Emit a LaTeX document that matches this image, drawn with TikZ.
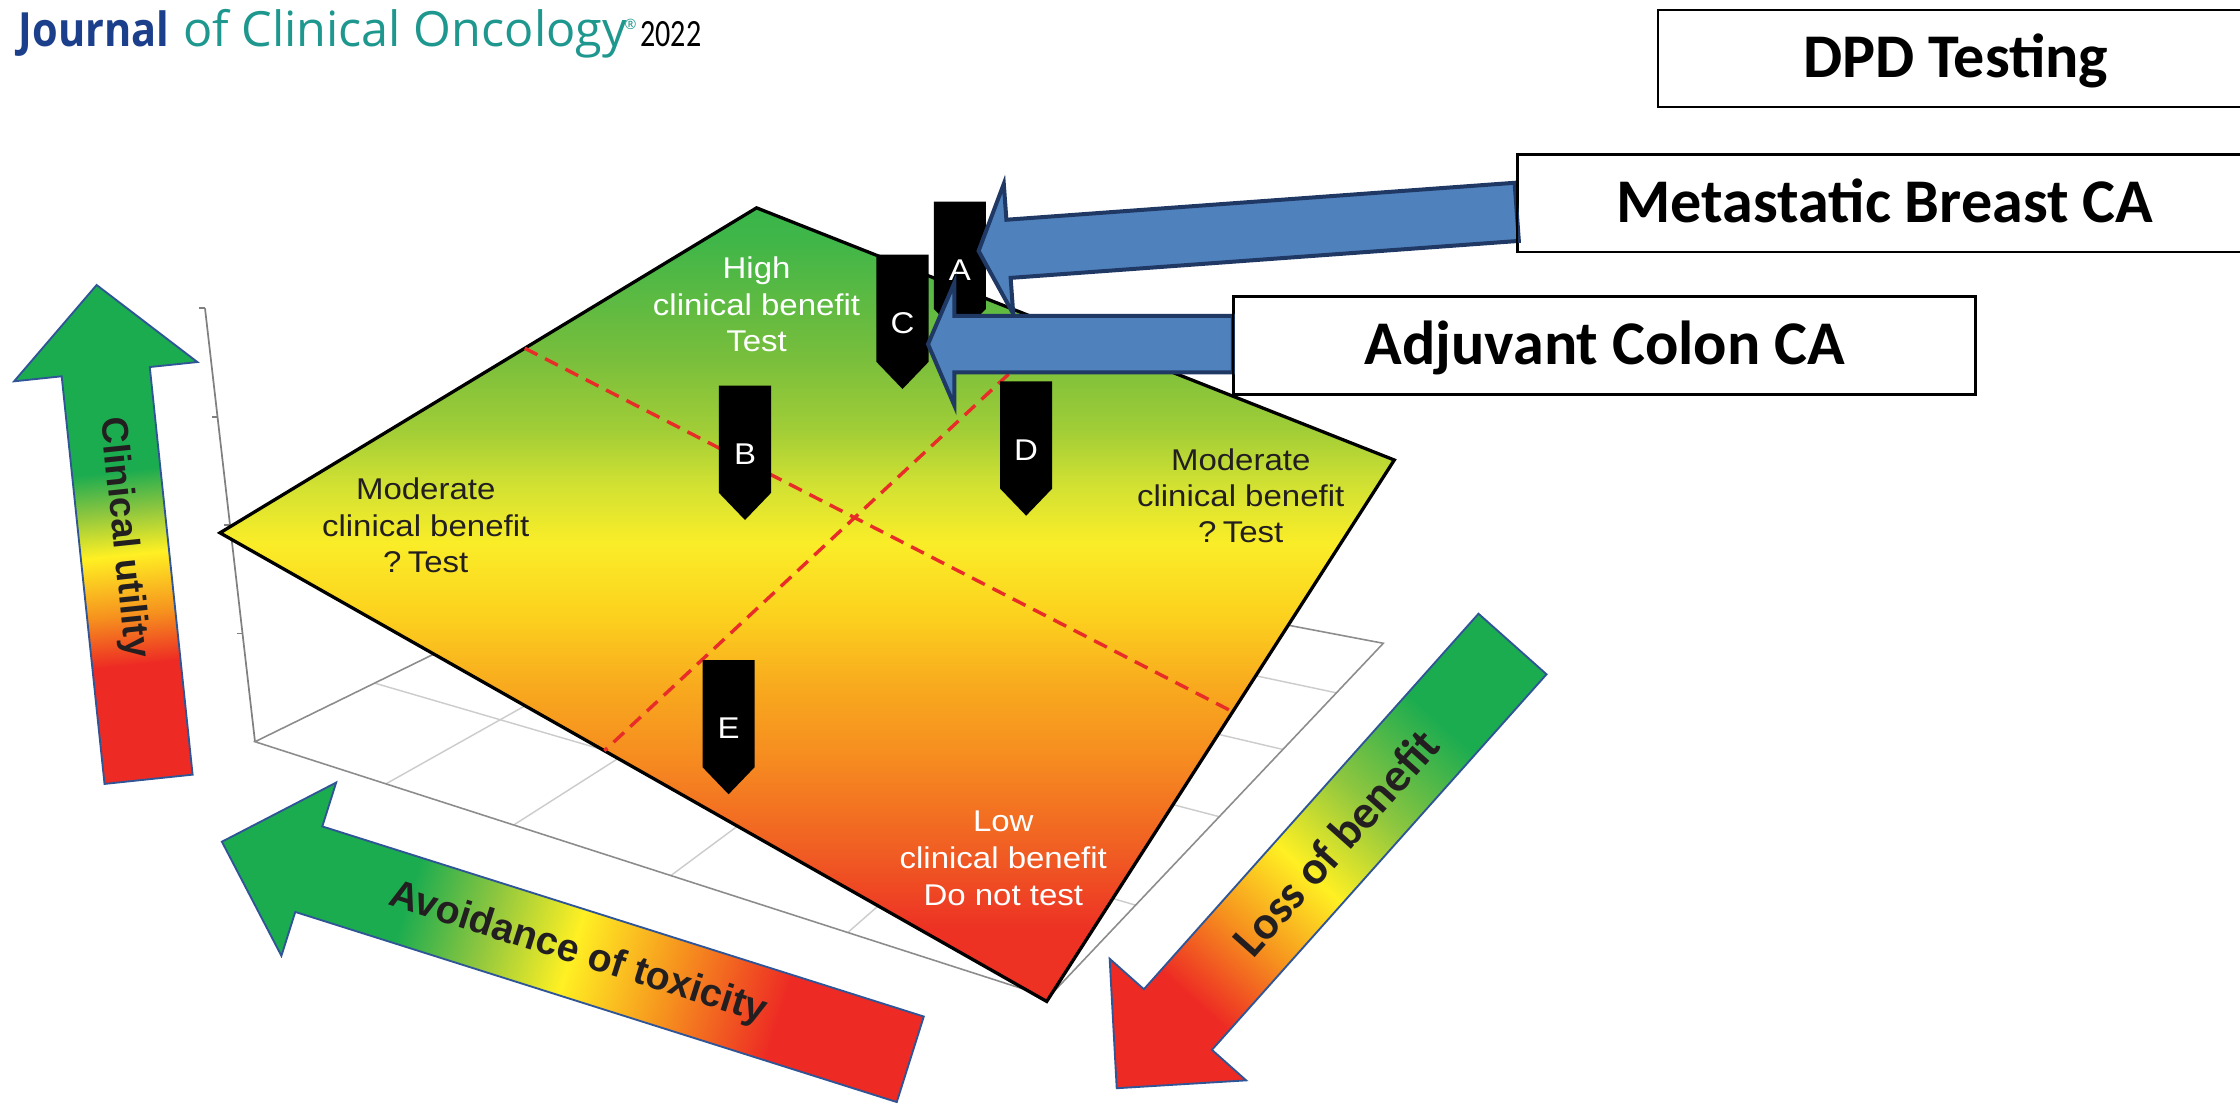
\documentclass[tikz,border=0pt]{standalone}
\usepackage{fontspec}
\setmainfont{Liberation Sans}
\newfontfamily\labf[FakeStretch=1.1]{Liberation Sans}
\newfontfamily\arf{Liberation Sans}
\newfontfamily\calf{Carlito}
\newfontfamily\calyr[FakeStretch=0.78]{Carlito}
\newfontfamily\osf{Open Sans}
\newfontfamily\osfj[FakeStretch=0.88]{Open Sans}
\usetikzlibrary{calc}

\definecolor{pg1}{RGB}{57,181,74}
\definecolor{pg2}{RGB}{65,182,72}
\definecolor{pg3}{RGB}{120,190,60}
\definecolor{pg4}{RGB}{160,205,55}
\definecolor{pg5}{RGB}{210,225,50}
\definecolor{py}{RGB}{250,237,40}
\definecolor{po1}{RGB}{252,210,30}
\definecolor{po2}{RGB}{248,170,30}
\definecolor{po3}{RGB}{246,140,32}
\definecolor{po4}{RGB}{240,90,35}
\definecolor{pr}{RGB}{237,50,36}
\definecolor{ag}{RGB}{28,172,80}
\definecolor{ayg}{RGB}{141,198,63}
\definecolor{ay}{RGB}{255,240,35}
\definecolor{ao}{RGB}{246,146,30}
\definecolor{ar}{RGB}{237,42,36}
\definecolor{aline}{RGB}{47,85,151}
\definecolor{bfill}{RGB}{79,129,189}
\definecolor{bline}{RGB}{31,56,100}
\definecolor{jnavy}{RGB}{28,63,140}
\definecolor{jteal}{RGB}{30,152,142}
\definecolor{txtdark}{RGB}{35,31,32}
\definecolor{dashred}{RGB}{232,45,40}

\pgfdeclareverticalshading{planeshade}{100bp}{color(0bp)=(pr); color(29.6bp)=(pr); color(34.1bp)=(po4); color(40.4bp)=(po3); color(44.9bp)=(po2); color(49.4bp)=(po1); color(53.9bp)=(py); color(57.5bp)=(pg5); color(61.1bp)=(pg4); color(65.6bp)=(pg3); color(72.8bp)=(pg2); color(75bp)=(pg1); color(100bp)=(pg1)}
\pgfdeclarehorizontalshading{cushade}{100bp}{color(0bp)=(ar); color(36.6bp)=(ar); color(41.7bp)=(ao); color(47.7bp)=(ay); color(52.1bp)=(ayg); color(56.1bp)=(ag); color(100bp)=(ag)}
\pgfdeclarehorizontalshading{aoshade}{100bp}{color(0bp)=(ar); color(34.5bp)=(ar); color(42.3bp)=(ao); color(49.6bp)=(ay); color(55.8bp)=(ayg); color(61.5bp)=(ag); color(100bp)=(ag)}
\pgfdeclarehorizontalshading{lbshade}{100bp}{color(0bp)=(ag); color(34bp)=(ag); color(43bp)=(ayg); color(50.8bp)=(ay); color(58bp)=(ao); color(65.2bp)=(ar); color(100bp)=(ar)}

\tikzset{
  axisline/.style={draw=black!50, line width=1.2},
  floorline/.style={draw=black!45, line width=1.1},
  gridline/.style={draw=black!20, line width=1},
  planeedge/.style={draw=black, line width=2.3, line join=miter},
  redline/.style={draw=dashred, line width=2.4, dash pattern=on 10pt off 6pt},
  mklabel/.style={text=white, font=\labf\fontsize{21}{25}\selectfont, anchor=base, inner sep=0},
  plabw/.style={text=white, font=\labf\fontsize{21}{25}\selectfont, anchor=base, inner sep=0},
  plabd/.style={text=txtdark, font=\labf\fontsize{21}{25}\selectfont, anchor=base, inner sep=0},
  bigarrow/.style={draw=aline, line width=1.3, line join=miter},
  bigtxt/.style={text=txtdark, font=\arf\bfseries\fontsize{26}{30}\selectfont, inner sep=0},
  lbtxt/.style={text=txtdark, font=\calf\bfseries\fontsize{33}{38}\selectfont, inner sep=0},
  blockarrow/.style={fill=bfill, draw=bline, line width=2.8, line join=miter},
  labelbox/.style={draw=black, line width=1.3, fill=white, inner sep=0, anchor=north west},
  boxtxt/.style={font=\calf\bfseries\fontsize{43.5}{50}\selectfont, anchor=base, inner sep=0, text=black},
}

\newcommand\mkmarker[4]{%
  \fill[black] (#2-18.25,#3) -- (#2+18.25,#3) -- (#2+18.25,#3+75) -- (#2,#3+94) -- (#2-18.25,#3+75) -- cycle;
  \node[mklabel] (#1) at (#2,#3+55) {#4};}

\begin{document}
\begin{tikzpicture}[x=1pt,y=-1pt]
\useasboundingbox (0,0) rectangle (1568,778);
\fill[white] (0,0) rectangle (1568,778);

% ---------- vertical axis ----------
\coordinate (AxT) at (143.5,215.8);
\coordinate (O) at (178.5,519.2);
\draw[axisline] (AxT) -- (O);
\foreach \f in {0,0.25,0.5,0.75} \draw[axisline] ($(AxT)!\f!(O)$) -- ++(-4,0);

% ---------- floor grid ----------
\coordinate (F) at (734,698);
\coordinate (Rf) at (968.3,450.3);
\coordinate (Bk) at (500.6,361.4);
\foreach \a in {0.165,0.326,0.524,0.747} \draw[gridline] ($(O)!\a!(F)$) -- ($(Bk)!\a!(Rf)$);
\foreach \b in {0.26,0.51,0.70,0.86} \draw[gridline] ($(F)!\b!(Rf)$) -- ($(O)!\b!(Bk)$);
\draw[floorline] (O) -- (F) -- (Rf) -- (Bk) -- cycle;

% ---------- plane ----------
\coordinate (PT) at (529.6,145.5);
\coordinate (PR) at (976,322);
\coordinate (PB) at (732.7,701);
\coordinate (PL) at (154,373);
\shade[shading=planeshade] (PT) -- (PR) -- (PB) -- (PL) -- cycle;
\draw[planeedge] (PT) -- (PR) -- (PB) -- (PL) -- cycle;

\draw[redline] ($(PL)!0.568!(PT)$) -- ($(PR)!0.465!(PB)$);
\draw[redline] ($(PT)!0.474!(PR)$) -- ($(PL)!0.465!(PB)$);

% ---------- plane labels ----------
\node[plabw] (hi1) at (529.6,194.8) {High};
\node[plabw] (hi2) at (529.6,220.5) {clinical benefit};
\node[plabw] (hi3) at (529.6,246) {Test};
\node[plabd] (ml1) at (298,349.7) {Moderate};
\node[plabd] (ml2) at (298,375.3) {clinical benefit};
\node[plabd] (ml3) at (298,401) {?\kern4.5pt Test};
\node[plabd] (mr1) at (868.5,329) {Moderate};
\node[plabd] (mr2) at (868.5,354.4) {clinical benefit};
\node[plabd] (mr3) at (868.5,379.8) {?\kern4.5pt Test};
\node[plabw] (lo1) at (702.3,582.2) {Low};
\node[plabw] (lo2) at (702.3,607.8) {clinical benefit};
\node[plabw] (lo3) at (702.3,633.5) {Do not test};

% ---------- markers ----------
\mkmarker{mkA}{671.9}{141.2}{A}
\mkmarker{mkC}{631.75}{178.3}{C}
\mkmarker{mkB}{521.5}{270}{B}
\mkmarker{mkD}{718.3}{267}{D}
\mkmarker{mkE}{510}{462}{E}

% ---------- big gradient arrows ----------
\begin{scope}[transform canvas={shift={(104,545.5)}, rotate=96.0}]
  \shadedraw[shading=cushade, bigarrow] (0,-31) -- (286.9,-31) -- (286.9,-64.5) -- (347.9,0) -- (286.9,64.5) -- (286.9,31) -- (0,31) -- cycle;
  \node[bigtxt, rotate=180] (cutxt) at (170,0) {Clinical utility};
\end{scope}
\begin{scope}[transform canvas={shift={(637.2,741.5)}, rotate=162.46}]
  \shadedraw[shading=aoshade, bigarrow] (0,-31.4) -- (441.6,-31.4) -- (441.6,-63.6) -- (505.4,0) -- (441.6,63.6) -- (441.6,31.4) -- (0,31.4) -- cycle;
  \node[bigtxt, rotate=180, font=\arf\bfseries\fontsize{27.5}{32}\selectfont] (aotxt) at (244,0) {Avoidance of toxicity};
\end{scope}
\begin{scope}[transform canvas={shift={(1058.75,450.8)}, rotate=228.3}]
  \shadedraw[shading=lbshade, bigarrow] (0,-31.9) -- (352.1,-31.9) -- (352.1,-64) -- (416.5,0) -- (352.1,64) -- (352.1,31.9) -- (0,31.9) -- cycle;
  \node[lbtxt, rotate=180] (lbtxt) at (186,0) {Loss of benefit};
\end{scope}

% ---------- boxes ----------
\node[labelbox, minimum width=412pt, minimum height=67.7pt] (dpdbox) at (1160,6.5) {};
\node[labelbox, minimum width=512pt, minimum height=67.7pt] (metabox) at (1061.7,107.8) {};
\node[labelbox, minimum width=519pt, minimum height=68pt] (adjbox) at (863,207) {};

% ---------- blue block arrows (box -> marker) ----------
\coordinate (mtail) at ($(metabox.west)+(0,6)$);
\draw[blockarrow, shift={(mtail)}, rotate=184.16] (0,-20.4) -- (356.7,-20.4) -- (356.7,-45.6) -- (377.7,0) -- (356.7,45.6) -- (356.7,20.4) -- (0,20.4) -- cycle;
\coordinate (atail) at ($(adjbox.west)+(0,-0.75)$);
\draw[blockarrow, shift={(atail)}, rotate=180] (0,-19.75) -- (194.9,-19.75) -- (194.9,-43) -- (213.4,0) -- (194.9,43) -- (194.9,19.75) -- (0,19.75) -- cycle;
\draw[draw=black, line width=1.3] (metabox.north west) rectangle (metabox.south east);
\draw[draw=black, line width=1.3] (adjbox.north west) rectangle (adjbox.south east);

\node[boxtxt] (dpdtxt) at (1369,54.1) {DPD Testing};
\node[boxtxt] (metatxt) at (1319.5,155.9) {Metastatic Breast CA};
\node[boxtxt] (adjtxt) at (1123.4,254.8) {Adjuvant Colon CA};

% ---------- header ----------
\node[anchor=base west, inner sep=0, font=\osfj\bfseries\fontsize{33}{38}\selectfont, text=jnavy] (jco1) at (12.9,32.7) {Journal};
\node[anchor=base west, inner sep=0, font=\osf\fontsize{34}{40}\selectfont, text=jteal] (jco2) at (128,32.7) {of Clinical Oncology};
\node[anchor=base west, inner sep=0, font=\osf\fontsize{10}{12}\selectfont, text=jteal] (reg) at (437,21) {®};
\node[anchor=base west, inner sep=0, font=\calyr\fontsize{27}{32}\selectfont, text=black] (yr) at (448,32.7) {2022};
\end{tikzpicture}
\end{document}
